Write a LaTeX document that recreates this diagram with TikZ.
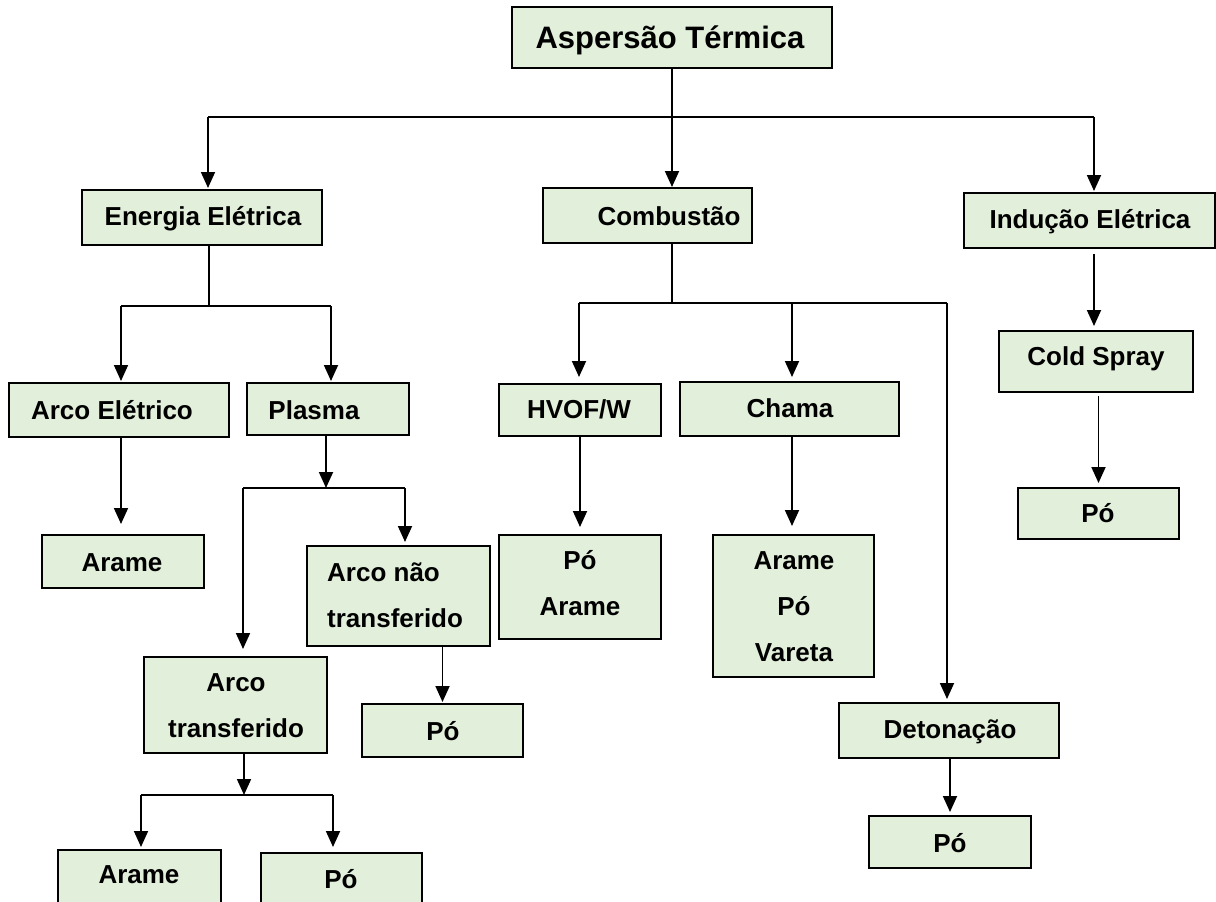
\documentclass[tikz,border=0pt]{standalone}
\usepackage{fontspec}
\setmainfont{Liberation Sans}
\usetikzlibrary{arrows.meta}
\definecolor{boxfill}{HTML}{E2EFDA}
\tikzset{
  box/.style={draw=black, line width=2pt, fill=boxfill, inner sep=0pt, rectangle},
  lbl/.style={font=\fontsize{26}{46}\selectfont\bfseries, anchor=base, align=center, inner sep=0pt},
  conn/.style={line width=1.8pt},
  arr/.style={conn, -{Triangle[length=16pt,width=14pt]}},
}
\newcommand{\mybox}[5]{\node[box, minimum width={(#4-#2)*1pt}, minimum height={(#5-#3)*1pt}] (#1) at ({(#2+#4)/2},{(#3+#5)/2}) {};}
\begin{document}
\begin{tikzpicture}[x=1pt,y=-1pt]
\useasboundingbox (0,0) rectangle (1216,902);
% boxes
\mybox{title}{512}{7}{832}{68}
\mybox{ener}{82}{190}{322}{245}
\mybox{comb}{543}{188}{752}{243}
\mybox{indu}{964}{193}{1215}{248}
\mybox{arcE}{9}{383}{229}{437}
\mybox{plas}{247}{383}{409}{435}
\mybox{arm1}{42}{535}{204}{588}
\mybox{anT}{307}{546}{490}{646}
\mybox{po1}{362}{704}{523}{757}
\mybox{aT}{144}{657}{327}{753}
\mybox{arm2}{58}{850}{221}{910}
\mybox{po2}{261}{853}{422}{910}
\mybox{hvof}{499}{384}{661}{436}
\mybox{cham}{680}{382}{899}{436}
\mybox{poA}{499}{535}{661}{639}
\mybox{apv}{713}{535}{874}{677}
\mybox{deto}{839}{703}{1059}{758}
\mybox{po3}{869}{816}{1031}{868}
\mybox{cold}{999}{331}{1193}{392}
\mybox{po4}{1018}{488}{1179}{539}
% junctions
\coordinate (b0L) at (208,117);
\coordinate (b0R) at (1094,117);
\coordinate (b1M) at (209,306);
\coordinate (b1L) at (121,306);
\coordinate (b1R) at (331,306);
\coordinate (b2M) at (326,488);
\coordinate (b2L) at (243,488);
\coordinate (b2R) at (405,488);
\coordinate (b3M) at (244,795);
\coordinate (b3L) at (141,795);
\coordinate (b3R) at (333,795);
\coordinate (b4M) at (672,303);
\coordinate (b4L) at (579,303);
\coordinate (b4C) at (792,303);
\coordinate (b4R) at (947,303);
% connectors
\draw[conn] (b0L) -- (b0R);
\draw[arr] (title.south) -- (title.south |- comb.north);
\draw[arr, shorten >=1pt] (b0L) -- (b0L |- ener.north);
\draw[arr, shorten >=1pt] (b0R) -- (b0R |- indu.north);
\draw[conn] (b1M |- ener.south) -- (b1M);
\draw[conn] (b1L) -- (b1R);
\draw[arr, shorten >=1pt] (b1L) -- (b1L |- arcE.north);
\draw[arr, shorten >=1pt] (b1R) -- (b1R |- plas.north);
\draw[arr, shorten >=10pt] (b1L |- arcE.south) -- (b1L |- arm1.north);
\draw[arr] (b2M |- plas.south) -- (b2M);
\draw[conn] (b2L) -- (b2R);
\draw[arr, shorten >=7pt] (b2L) -- (b2L |- aT.north);
\draw[arr, shorten >=3pt] (b2R) -- (b2R |- anT.north);
\draw[arr, shorten >=1pt] (anT.south -| po1.north) -- (po1.north);
\draw[arr] (b3M |- aT.south) -- (b3M);
\draw[conn] (b3L) -- (b3R);
\draw[arr, shorten >=2pt] (b3L) -- (b3L |- arm2.north);
\draw[arr, shorten >=5pt] (b3R) -- (b3R |- po2.north);
\draw[conn] (b4M |- comb.south) -- (b4M);
\draw[conn] (b4L) -- (b4R);
\draw[arr, shorten >=6pt] (b4L) -- (b4L |- hvof.north);
\draw[arr, shorten >=4pt] (b4C) -- (b4C |- cham.north);
\draw[arr, shorten >=3pt] (b4R) -- (b4R |- deto.north);
\draw[arr, shorten >=7pt] (hvof.south -| poA.north) -- (poA.north);
\draw[arr, shorten >=8pt] (b4C |- cham.south) -- (b4C |- apv.north);
\draw[arr, shorten >=3pt] (deto.south -| po3.north) -- (po3.north);
\draw[arr, shorten <=5pt, shorten >=4pt] (indu.south -| b0R) -- (b0R |- cold.north);
\draw[arr, shorten <=3pt, shorten >=4pt] (cold.south -| po4.north) -- (po4.north);
% labels
\node[lbl, font=\fontsize{31}{40}\selectfont\bfseries] (t-title) at (670,48) {Aspersão Térmica};
\node[lbl] (t-ener) at (203,225) {Energia Elétrica};
\node[lbl] (t-comb) at (669,225) {Combustão};
\node[lbl] (t-indu) at (1090,228) {Indução Elétrica};
\node[lbl] (t-arcE) at (112,419) {Arco Elétrico};
\node[lbl] (t-plas) at (314,419) {Plasma};
\node[lbl] (t-arm1) at (122,571) {Arame};
\node[lbl, anchor=base west, align=left] (t-anT) at (327,627) {Arco não\\transferido};
\node[lbl] (t-po1) at (443,740) {Pó};
\node[lbl] (t-aT) at (236,737) {Arco\\transferido};
\node[lbl] (t-arm2) at (139,883) {Arame};
\node[lbl] (t-po2) at (341,888) {Pó};
\node[lbl] (t-hvof) at (579,418) {HVOF/W};
\node[lbl] (t-cham) at (790,417) {Chama};
\node[lbl] (t-poA) at (580,615) {Pó\\Arame};
\node[lbl] (t-apv) at (794,661) {Arame\\Pó\\Vareta};
\node[lbl] (t-deto) at (950,738) {Detonação};
\node[lbl] (t-po3) at (950,852) {Pó};
\node[lbl] (t-cold) at (1096,365) {Cold Spray};
\node[lbl] (t-po4) at (1098,522) {Pó};
\end{tikzpicture}
\end{document}
